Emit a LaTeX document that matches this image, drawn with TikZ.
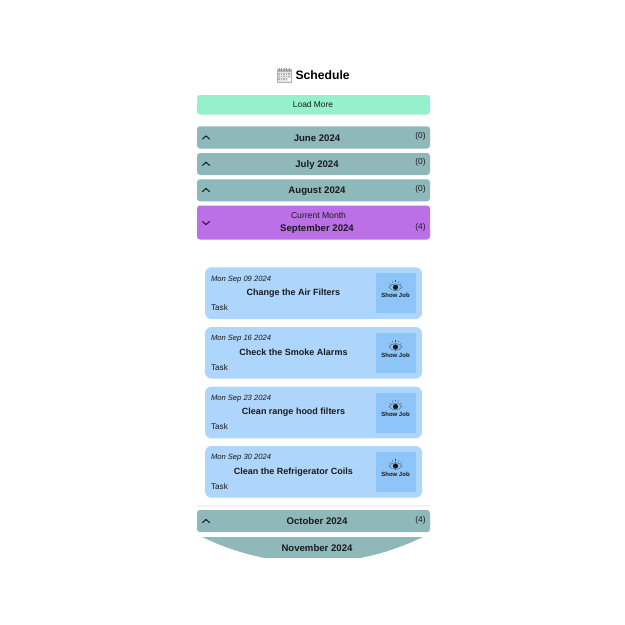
\documentclass[tikz,border=0pt]{standalone}
\usepackage{fontspec}
\setmainfont{Liberation Sans}
\definecolor{barc}{HTML}{8FB8BB}
\definecolor{loadc}{HTML}{95F0CC}
\definecolor{curc}{HTML}{BC70E8}
\definecolor{cardc}{HTML}{AED5FB}
\definecolor{showc}{HTML}{8DC5F9}
\definecolor{inkc}{HTML}{1A1A1A}
\tikzset{
  every node/.style={inner sep=0pt,outer sep=0pt,text=inkc},
  barbox/.style={fill=barc,rounded corners=3pt,draw=none},
  monthlab/.style={font=\fontsize{9.6}{11}\selectfont\bfseries,anchor=base},
  countlab/.style={font=\fontsize{8.4}{10}\selectfont,anchor=center},
  chev/.style={draw=inkc,line width=1pt,line cap=round,line join=round},
  cardbox/.style={fill=cardc,rounded corners=6.5pt,draw=none},
  showbox/.style={fill=showc,draw=none},
  datelab/.style={font=\fontsize{7.6}{9}\selectfont\itshape,anchor=base west},
  titlelab/.style={font=\fontsize{9}{11}\selectfont\bfseries,anchor=base},
  tasklab/.style={font=\fontsize{8.2}{10}\selectfont,anchor=base west},
  showlab/.style={font=\fontsize{6}{7}\selectfont\bfseries,anchor=base},
}
% eye icon at (x,y)
\newcommand{\eyeicon}[2]{%
  \begin{scope}[shift={(#1,#2)}]
    \draw[draw=inkc!80,line width=0.3pt] (-6.5,0) .. controls (-3,-4.6) and (3,-4.6) .. (6.5,0) .. controls (3,4.6) and (-3,4.6) .. (-6.5,0) -- cycle;
    \fill[inkc] (0,0) circle (2.6);
    \foreach \a in {-150,-120,-90,-60,-30}{
      \draw[inkc!80,line width=0.3pt] (\a:5.2) -- (\a:7);
    }
  \end{scope}}
% month bar: top, bottom, centre, month, name
\newcommand{\monthbar}[5]{%
  \path[barbox] (197,#1) rectangle (430,#2);
  \draw[chev] (202.5,#3+1.6) -- (206,#3-1.6) -- (209.5,#3+1.6);
  \node[monthlab] (#5m) at (317,#3+3.6) {#4};
}
\newcommand{\jobcard}[5]{%
  \path[cardbox] (205,#1) rectangle (422,#1+51.7);
  \path[showbox] (376,#1+6) rectangle (416,#1+46);
  \node[datelab] (#5d) at (211,#1+13.8) {#2};
  \node[titlelab] (#5t) at (#4,#1+28.2) {#3};
  \node[tasklab] (#5k) at (211,#1+43.2) {Task};
  \eyeicon{395.5}{#1+20}
  \node[showlab] (#5s) at (395.5,#1+30) {Show Job};
}
\begin{document}
\begin{tikzpicture}[x=1pt,y=-1pt]
\useasboundingbox (0,0) rectangle (625,625);
\fill[white] (0,0) rectangle (625,625);
\begin{scope}
\clip (312.5,312.5) circle (250);
% calendar icon
\path[fill=black!10,draw=black!30,line width=0.4pt] (277.5,69.5) rectangle (291.5,82);
\fill[black!30] (277.5,69.5) rectangle (291.5,72);
\foreach \x in {279,281.5,284,286.5,289}{\draw[black!40,line width=0.6pt] (\x,68) -- (\x,70.5);}
\foreach \y in {74,76.5,79}{\foreach \x in {279,281.5,284,286.5,289}{\fill[black!30] (\x-0.7,\y-0.6) rectangle (\x+0.7,\y+0.6);}}
\fill[white] (287.5,78) rectangle (290.5,81);
\node[font=\fontsize{12.2}{14}\selectfont\bfseries,text=black,anchor=west] (title) at (295.5,75) {Schedule};
% load more
\path[fill=loadc,rounded corners=3pt] (197,95) rectangle (430,114.5);
\node[font=\fontsize{8.4}{10}\selectfont] (load) at (313,104.8) {Load More};
% months
\monthbar{126.3}{148.5}{137.5}{June 2024}{jun}
\node[countlab] (junc) at (420.5,136.5) {(0)};
\monthbar{153}{175}{163.8}{July 2024}{jul}
\node[countlab] (julc) at (420.5,162.8) {(0)};
\monthbar{179.3}{201.3}{190}{August 2024}{aug}
\node[countlab] (augc) at (420.5,189.2) {(0)};
% current month
\path[fill=curc,rounded corners=3pt] (197,205.5) rectangle (430,239.5);
\draw[chev] (202.5,221.5) -- (206,224.6) -- (209.5,221.5);
\node[font=\fontsize{8.6}{10}\selectfont] (cur) at (318.5,215.5) {Current Month};
\node[monthlab] (sep) at (317,231.8) {September 2024};
\node[countlab] (sepc) at (420.5,227.3) {(4)};
% cards
\jobcard{267.3}{Mon Sep 09 2024}{Change the Air Filters}{293.5}{a}
\jobcard{327}{Mon Sep 16 2024}{Check the Smoke Alarms}{293.5}{b}
\jobcard{386.6}{Mon Sep 23 2024}{Clean range hood filters}{293.5}{c}
\jobcard{446}{Mon Sep 30 2024}{Clean the Refrigerator Coils}{293.5}{d}
% separator
\fill[black!5!white] (197,505) rectangle (430,506.5);
% later months
\monthbar{510}{532.2}{521}{October 2024}{oct}
\node[countlab] (octc) at (420.5,520) {(4)};
\fill[barc] (197,536.5) rectangle (430,558);
\node[monthlab] (nov) at (317,551) {November 2024};
\end{scope}
\end{tikzpicture}
\end{document}
